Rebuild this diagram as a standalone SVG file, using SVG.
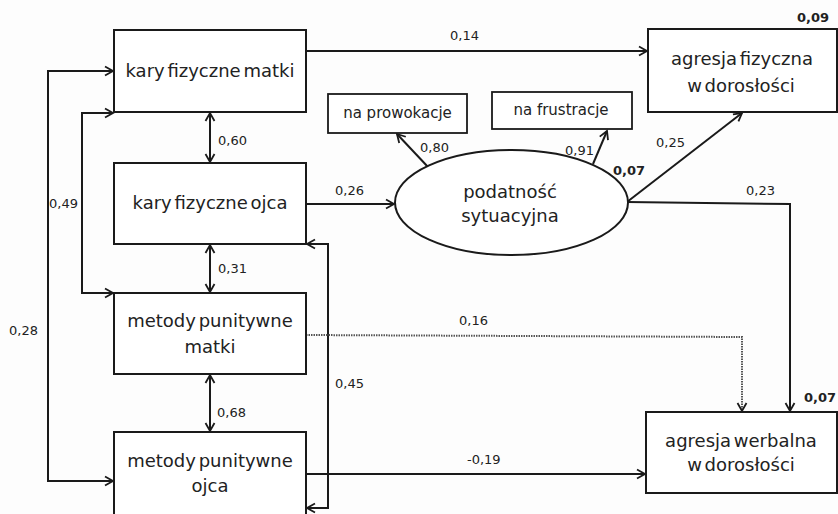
<svg xmlns="http://www.w3.org/2000/svg" width="838" height="514" viewBox="0 0 838 514">
  <defs>
    <marker id="arrow" viewBox="-10 -6 12 12" refX="0" refY="0" markerWidth="12" markerHeight="12" markerUnits="userSpaceOnUse" orient="auto-start-reverse">
      <path d="M-8,-4.5 L0,0 L-8,4.5" fill="none" stroke="#1a1a1a" stroke-width="1.8"/>
    </marker>
    <style>
      .box { fill: #ffffff; stroke: #1a1a1a; stroke-width: 2; }
      .small { fill: #ffffff; stroke: #1a1a1a; stroke-width: 1.8; }
      .lbl { font-family: "DejaVu Sans", "Liberation Sans", sans-serif; fill: #222; }
      .main { font-size: 18px; word-spacing: -3px; text-anchor: middle; }
      .sub { font-size: 15px; text-anchor: middle; }
      .coef { font-size: 13px; }
      .r2 { font-size: 13px; font-weight: bold; }
      .edge { fill: none; stroke: #1a1a1a; stroke-width: 2; }
      .dotted { fill: none; stroke: #555; stroke-width: 2; stroke-dasharray: 1.5 1; }
    </style>
  </defs>
  <rect width="838" height="514" fill="#fdfdfd"/>

  <!-- paths between variables -->
  <g id="connectors">
    <line class="edge" x1="306" y1="51" x2="647" y2="51" marker-end="url(#arrow)"/>
    <line class="edge" x1="306" y1="204" x2="394" y2="204" marker-end="url(#arrow)"/>
    <line class="edge" x1="306" y1="474" x2="645" y2="474" marker-end="url(#arrow)"/>
    <line class="edge" x1="210" y1="113" x2="210" y2="162" marker-start="url(#arrow)" marker-end="url(#arrow)"/>
    <line class="edge" x1="210" y1="245" x2="210" y2="292" marker-start="url(#arrow)" marker-end="url(#arrow)"/>
    <line class="edge" x1="210" y1="375" x2="210" y2="431" marker-start="url(#arrow)" marker-end="url(#arrow)"/>
    <polyline class="edge" points="113,113 82,113 82,293 113,293" marker-start="url(#arrow)" marker-end="url(#arrow)"/>
    <polyline class="edge" points="113,71 48,71 48,481 113,481" marker-start="url(#arrow)" marker-end="url(#arrow)"/>
    <polyline class="edge" points="307,244 328,244 328,508 307,508" marker-start="url(#arrow)" marker-end="url(#arrow)"/>
    <line class="edge" x1="428" y1="167" x2="397" y2="134" marker-end="url(#arrow)"/>
    <line class="edge" x1="593" y1="164" x2="607" y2="131" marker-end="url(#arrow)"/>
    <line class="edge" x1="627" y1="202" x2="742" y2="113" marker-end="url(#arrow)"/>
    <polyline class="edge" points="627,202 790,204 790,411" marker-end="url(#arrow)"/>
    <polyline class="dotted" points="306,335 742,337 742,411" marker-end="url(#arrow)"/>
  </g>

  <!-- coefficients -->
  <g id="coefficients" class="lbl">
    <text class="coef" x="450" y="40">0,14</text>
    <text class="coef" x="218" y="145">0,60</text>
    <text class="coef" x="335" y="195">0,26</text>
    <text class="coef" x="49" y="208">0,49</text>
    <text class="coef" x="218" y="273">0,31</text>
    <text class="coef" x="9" y="335">0,28</text>
    <text class="coef" x="459" y="325">0,16</text>
    <text class="coef" x="335" y="388">0,45</text>
    <text class="coef" x="217" y="417">0,68</text>
    <text class="coef" x="467" y="464">-0,19</text>
    <text class="coef" x="420" y="152">0,80</text>
    <text class="coef" x="565" y="155">0,91</text>
    <text class="coef" x="656" y="147">0,25</text>
    <text class="coef" x="746" y="195">0,23</text>
    <text class="r2" x="797" y="22">0,09</text>
    <text class="r2" x="613" y="175">0,07</text>
    <text class="r2" x="804" y="402">0,07</text>
  </g>

  <g id="kary-matki">
    <rect class="box" x="114" y="30" width="192" height="82"/>
    <text class="lbl main" x="210" y="77">kary fizyczne matki</text>
  </g>
  <g id="kary-ojca">
    <rect class="box" x="114" y="163" width="192" height="81"/>
    <text class="lbl main" x="210" y="209">kary fizyczne ojca</text>
  </g>
  <g id="metody-matki">
    <rect class="box" x="114" y="293" width="192" height="81"/>
    <text class="lbl main" x="210" y="327">metody punitywne</text>
    <text class="lbl main" x="210" y="353">matki</text>
  </g>
  <g id="metody-ojca">
    <rect class="box" x="114" y="432" width="192" height="100"/>
    <text class="lbl main" x="210" y="467">metody punitywne</text>
    <text class="lbl main" x="210" y="492">ojca</text>
  </g>
  <g id="podatnosc">
    <ellipse class="box" cx="511.5" cy="202.5" rx="116.5" ry="52.5"/>
    <text class="lbl main" x="510" y="198">podatność</text>
    <text class="lbl main" x="510" y="222">sytuacyjna</text>
  </g>
  <g id="prowokacje">
    <rect class="small" x="328" y="94" width="139" height="39"/>
    <text class="lbl sub" x="397.5" y="118">na prowokacje</text>
  </g>
  <g id="frustracje">
    <rect class="small" x="492" y="92" width="140" height="37"/>
    <text class="lbl sub" x="561" y="115">na frustracje</text>
  </g>
  <g id="agresja-fizyczna">
    <rect class="box" x="648" y="29" width="189" height="83"/>
    <text class="lbl main" x="742" y="65">agresja fizyczna</text>
    <text class="lbl main" x="741" y="92">w dorosłości</text>
  </g>
  <g id="agresja-werbalna">
    <rect class="box" x="646" y="412" width="191" height="81"/>
    <text class="lbl main" x="741" y="447">agresja werbalna</text>
    <text class="lbl main" x="741" y="471">w dorosłości</text>
  </g>
</svg>
